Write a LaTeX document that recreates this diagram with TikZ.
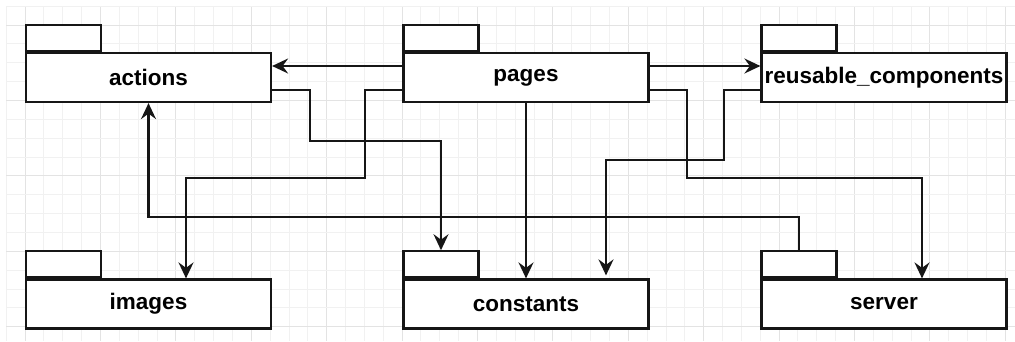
\documentclass[tikz,border=0pt]{standalone}
\usepackage{fontspec}
\setmainfont{Liberation Sans}
\usetikzlibrary{arrows.meta}
\definecolor{gridminor}{HTML}{F1F1F1}
\definecolor{gridmajor}{HTML}{E3E3E3}
\definecolor{ink}{HTML}{161616}
\tikzset{
  pkgbody/.style={draw=ink, line width=2.2pt, fill=white, minimum width=245pt,
    minimum height=49pt, inner sep=0pt,
    font=\fontsize{22.5}{26}\selectfont\bfseries},
  pkgtab/.style={draw=ink, line width=2.2pt, fill=white, minimum width=75pt,
    minimum height=26pt, inner sep=0pt, anchor=south west},
  dep/.style={draw=ink, line width=2.2pt,
    -{Stealth[length=16pt, width=15pt, inset=5.5pt]}},
}
\begin{document}
\begin{tikzpicture}[x=1pt, y=-1pt]
  \useasboundingbox (0,0) rectangle (1015,341);
  % background grid: minor every 18.85, major every fourth line
  \foreach \k in {-1,...,52} {
    \pgfmathsetmacro{\gx}{25.1+18.85*\k}
    \pgfmathtruncatemacro{\m}{mod(\k+4,4)}
    \ifnum\m=0
      \draw[gridmajor, line width=1pt] (\gx,6.3) -- (\gx,341);
    \else
      \draw[gridminor, line width=1pt] (\gx,6.3) -- (\gx,341);
    \fi
  }
  \foreach \k in {-1,...,17} {
    \pgfmathsetmacro{\gy}{25.1+18.85*\k}
    \pgfmathtruncatemacro{\m}{mod(\k+4,4)}
    \ifnum\m=0
      \draw[gridmajor, line width=1pt] (6.3,\gy) -- (1015,\gy);
    \else
      \draw[gridminor, line width=1pt] (6.3,\gy) -- (1015,\gy);
    \fi
  }

  % packages, top row
  \node[pkgbody] (actions)  at (148.5,77.5) {actions};
  \node[pkgtab]  (actionstab) at (actions.north west) {};
  \node[pkgbody] (pages)    at (526,77.5) {pages};
  \node[pkgtab]  (pagestab) at (pages.north west) {};
  \node[pkgbody] (reusable) at (884,77.5) {reusable\_components};
  \node[pkgtab]  (reusabletab) at (reusable.north west) {};

  % packages, bottom row
  \node[pkgbody] (images)    at (148.5,304) {images};
  \node[pkgtab]  (imagestab) at (images.north west) {};
  \node[pkgbody] (constants) at (526,304) {constants};
  \node[pkgtab]  (constantstab) at (constants.north west) {};
  \node[pkgbody] (server)    at (884,304) {server};
  \node[pkgtab]  (servertab) at (server.north west) {};

  % dependencies
  \draw[dep] ([yshift=11.5pt]pages.west) -- ([yshift=11.5pt]actions.east);
  \draw[dep] ([yshift=11.5pt]pages.east) -- ([yshift=11.5pt]reusable.west);
  \draw[dep] ([yshift=-12.5pt]actions.east) -| (310,141) -| (constantstab.north);
  \draw[dep] ([yshift=-12.5pt]pages.west) -| (365,178) -| ([xshift=37.5pt]images.north);
  \draw[dep] (pages.south) -- (constants.north);
  \draw[dep] ([yshift=-12.5pt]reusable.west) -| (724,160) -| ([xshift=80pt,yshift=3pt]constants.north);
  \draw[dep] ([yshift=-12.5pt]pages.east) -| (687,178) -| ([xshift=38pt]server.north);
  \draw[dep] (servertab.north) |- (148.5,217) -- (actions.south);
\end{tikzpicture}
\end{document}
